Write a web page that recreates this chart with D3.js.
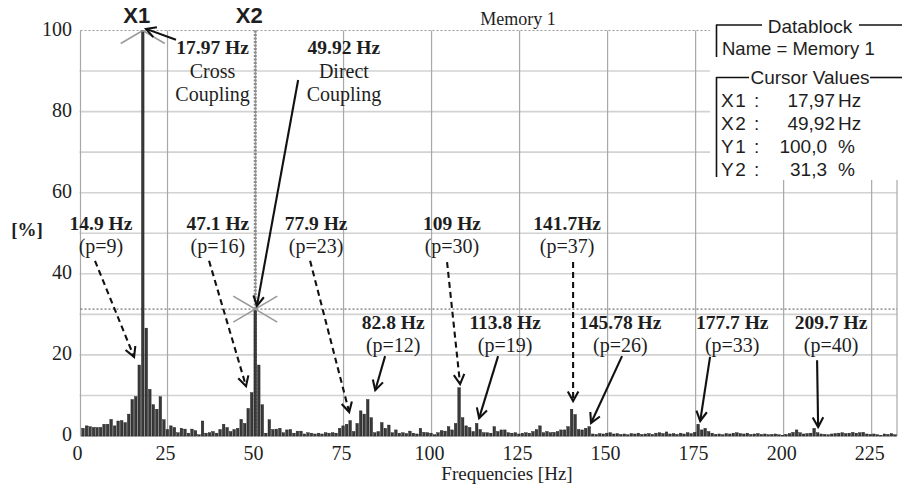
<!DOCTYPE html>
<html><head><meta charset="utf-8">
<script src="https://cdn.jsdelivr.net/npm/d3@7"></script>
<style>body{margin:0;background:#fff;} svg{display:block;}</style>
</head><body><svg id="c" width="902" height="491"></svg>
<script>
// ---------------- DATA ----------------
const binHz = 0.9984; // spectral line spacing (Hz)
// amplitude [%] of spectral lines 1..232
const amplitudes = [
  1.9, 2.5, 2.3, 2.1, 2.1, 2.1, 2.9, 2.9, 4.1, 2.5,
  3.7, 3.8, 3.3, 5.4, 9.0, 9.7, 17.5, 100, 26.6, 11.5,
  7.7, 6.6, 9.7, 4.0, 1.6, 2.5, 2.1, 0.8, 1.9, 1.7,
  0.7, 1.7, 1.3, 0.3, 3.7, 0.7, 0.8, 1.1, 0.7, 1.6,
  2.9, 2.1, 1.1, 1.6, 1.9, 4.1, 3.1, 6.8, 10.7, 31.3,
  17.5, 7.7, 0.7, 4.0, 1.6, 1.7, 1.9, 0.8, 1.5, 1.6,
  0.7, 1.2, 1.2, 0.5, 0.8, 0.7, 0.5, 0.7, 0.5, 0.8,
  0.7, 0.8, 0.7, 1.9, 2.5, 2.9, 3.8, 1.1, 3.1, 6.2,
  5.4, 9.0, 4.5, 0.8, 1.1, 3.3, 1.9, 2.7, 0.8, 1.5,
  0.7, 0.8, 0.6, 1.2, 0.7, 0.5, 1.9, 0.9, 0.8, 0.7,
  0.3, 0.8, 1.3, 1.2, 2.3, 1.5, 3.1, 11.9, 4.5, 2.5,
  2.1, 1.1, 3.1, 1.6, 0.8, 0.8, 0.7, 2.3, 1.1, 1.5,
  1.5, 0.8, 0.7, 0.8, 0.5, 0.7, 0.8, 0.7, 1.1, 1.6,
  2.5, 0.8, 1.1, 0.8, 0.9, 1.1, 1.5, 1.5, 2.3, 6.6,
  5.3, 1.6, 1.5, 1.9, 2.3, 0.5, 0.4, 0.6, 0.5, 0.7,
  0.8, 0.5, 0.6, 0.4, 0.5, 0.3, 0.6, 0.5, 0.7, 0.4,
  0.5, 0.6, 0.4, 0.7, 0.8, 0.6, 1.0, 0.5, 0.6, 0.4,
  0.7, 0.5, 0.8, 0.6, 0.9, 2.9, 1.5, 1.9, 1.1, 0.7,
  0.4, 0.5, 0.3, 0.6, 0.5, 0.7, 0.8, 0.6, 0.5, 0.7,
  0.4, 0.5, 0.6, 0.4, 0.5, 0.3, 0.4, 0.5, 0.3, 0.2,
  0.4, 0.6, 0.9, 1.5, 0.8, 0.5, 0.6, 0.7, 1.9, 0.8,
  0.5, 0.4, 0.3, 0.5, 0.6, 0.7, 0.8, 0.6, 0.7, 0.9,
  0.7, 0.8, 0.9, 0.5, 0.4, 0.5, 0.3, 0.2, 0.5, 0.4,
  0.6, 0.3
];
const xTicks = [0, 25, 50, 75, 100, 125, 150, 175, 200, 225];
const yTicks = [0, 20, 40, 60, 80, 100];
const yGrid = [10, 20, 30, 40, 50, 60, 70, 80, 90];
const cursorNames = ["X1", "X2"];
const cursorHz = [17.97, 49.92];
const cursorPct = [100.0, 31.3];
const legendLabels = ["X1", "X2", "Y1", "Y2"];
const legendValues = ["17,97", "49,92", "100,0", "31,3"];
const legendUnits = ["Hz", "Hz", "%", "%"];
const xTitle = "Frequencies [Hz]";
const yTitle = "[%]";
const chartTitle = "Memory 1";
// annotation texts and anchor points in data space (Hz, %)
const annLines1 = ["14.9 Hz", "47.1 Hz", "77.9 Hz", "109 Hz", "141.7Hz", "82.8 Hz", "113.8 Hz", "145.78 Hz", "177.7 Hz", "209.7 Hz"];
const annLines2 = ["(p=9)", "(p=16)", "(p=23)", "(p=30)", "(p=37)", "(p=12)", "(p=19)", "(p=26)", "(p=33)", "(p=40)"];
const annCenterHz = [6.1, 39.3, 67.2, 105.8, 138.5, 89.1, 120.9, 153.6, 185.4, 213.5];
const annRow = [0, 0, 0, 0, 0, 1, 1, 1, 1, 1];
const annFrom = [[4.4, 43.2], [36.8, 43.2], [65.5, 43.2], [104.4, 42.9], [140.2, 42.9],
                 [86.8, 19.7], [118.9, 19.7], [154.1, 19.7], [179.1, 19.5], [209.5, 18.7]];
const annTo = [[15.5, 19.5], [47.3, 12.3], [76.6, 5.9], [108.1, 12.8], [140.2, 8.6],
               [84.0, 11.3], [113.5, 4.4], [145.3, 3.2], [176.3, 3.7], [209.8, 2.2]];
const annDashed = [true, true, true, true, true, false, false, false, false, false];
const topAnnText = [["17.97 Hz", "Cross", "Coupling"], ["49.92 Hz", "Direct", "Coupling"]];
const topAnnCenterHz = [37.8, 75.1];
const topAnnFrom = [[27.4, 97.7], [62.1, 87.8]];
const topAnnTo = [[18.9, 100.4], [50.4, 32.1]];

// ---------------- CHART ----------------
const svg = d3.select("#c");
const serif = "'Liberation Serif','Times New Roman',serif";
const sans = "'Liberation Sans',Arial,sans-serif";
const ink = "#1e1e1e";

const x = d3.scaleLinear().domain([0, 232.2]).range([79.5, 897]);
const y = d3.scaleLinear().domain([0, 100]).range([436, 30.5]);
const [x0, x1] = x.range();
const [yb, yt] = y.range();

svg.append("defs").append("clipPath").attr("id", "plotclip")
  .append("rect").attr("x", x0).attr("y", yt).attr("width", x1 - x0).attr("height", yb - yt);

// horizontal grid
svg.append("g").selectAll("line").data(yGrid).join("line")
  .attr("x1", x0).attr("x2", x1).attr("y1", d => y(d)).attr("y2", d => y(d))
  .attr("stroke", "#d2d2d2").attr("stroke-width", 1.6);

// vertical grid
svg.append("g").selectAll("line").data(xTicks.slice(1)).join("line")
  .attr("x1", d => x(d)).attr("x2", d => x(d)).attr("y1", yt).attr("y2", yb)
  .attr("stroke", "#a8a8a8").attr("stroke-width", 1.2);

// frame
svg.append("line").attr("x1", x0 + 1).attr("x2", x0 + 1).attr("y1", yt).attr("y2", yb)
  .attr("stroke", "#a8a8a8").attr("stroke-width", 1.2);
svg.append("line").attr("x1", x1).attr("x2", x1).attr("y1", yt).attr("y2", yb)
  .attr("stroke", "#a8a8a8").attr("stroke-width", 1.2);
svg.append("line").attr("x1", x0 + 1).attr("x2", x1).attr("y1", yb + 0.5).attr("y2", yb + 0.5)
  .attr("stroke", "#bbb").attr("stroke-width", 1);
svg.append("line").attr("x1", x0 + 1).attr("x2", x1).attr("y1", yt).attr("y2", yt)
  .attr("stroke", "#999").attr("stroke-width", 1.2).attr("stroke-dasharray", "2,2");

// Y2 cursor horizontal line
svg.append("line").attr("x1", x0 + 1).attr("x2", x1).attr("y1", y(cursorPct[1])).attr("y2", y(cursorPct[1]))
  .attr("stroke", "#555").attr("stroke-width", 1).attr("stroke-dasharray", "2,2");

// X2 cursor vertical line
svg.append("line").attr("x1", x(cursorHz[1])).attr("x2", x(cursorHz[1])).attr("y1", yt).attr("y2", yb)
  .attr("stroke", "#8c8c8c").attr("stroke-width", 3).attr("stroke-dasharray", "2,1.5");

// bars
const bars = amplitudes.map((v, i) => ({ f: (i + 1) * binHz, v }));
svg.append("g").selectAll("rect").data(bars).join("rect")
  .attr("x", d => x(d.f) - 1.3).attr("width", 2.6)
  .attr("y", d => y(d.v)).attr("height", d => y(0) - y(d.v))
  .attr("fill", "#3a3a3a").attr("stroke", "#161616").attr("stroke-width", 0.4);

// cursor cross markers
const cross = svg.append("g").attr("clip-path", "url(#plotclip)");
cursorHz.forEach((f, i) => {
  const cx = x(f), cy = y(cursorPct[i]);
  cross.append("line").attr("x1", cx - 22).attr("y1", cy - 13).attr("x2", cx + 22).attr("y2", cy + 13)
    .attr("stroke", "#9a9a9a").attr("stroke-width", 1.6);
  cross.append("line").attr("x1", cx - 22).attr("y1", cy + 13).attr("x2", cx + 22).attr("y2", cy - 13)
    .attr("stroke", "#9a9a9a").attr("stroke-width", 1.6);
});

// cursor names
svg.append("g").selectAll("text").data(cursorNames).join("text")
  .attr("x", (d, i) => x(cursorHz[i]) - 6).attr("y", 23)
  .attr("text-anchor", "middle").attr("font-family", sans).attr("font-weight", "bold")
  .attr("font-size", 22).attr("fill", ink).text(d => d);

// axis labels
svg.append("g").selectAll("text").data(yTicks).join("text")
  .attr("x", 72).attr("y", d => y(d) + 5).attr("text-anchor", "end")
  .attr("font-family", serif).attr("font-size", 20).attr("fill", ink).text(d => d);
svg.append("g").selectAll("text").data(xTicks).join("text")
  .attr("x", d => x(d) - 2).attr("y", 460).attr("text-anchor", "middle")
  .attr("font-family", serif).attr("font-size", 20).attr("fill", ink).text(d => d);
svg.append("text").attr("x", 507).attr("y", 480).attr("text-anchor", "middle")
  .attr("font-family", serif).attr("font-size", 19).attr("fill", ink).text(xTitle);
svg.append("text").attr("x", 27).attr("y", 236).attr("text-anchor", "middle")
  .attr("font-family", serif).attr("font-weight", "bold").attr("font-size", 19).attr("fill", ink).text(yTitle);
svg.append("text").attr("x", 518).attr("y", 25).attr("text-anchor", "middle")
  .attr("font-family", serif).attr("font-size", 18).attr("fill", ink).text(chartTitle);

// arrows
function arrow(g, from, to, dashed) {
  const ax = x(from[0]), ay = y(from[1]), bx = x(to[0]), by = y(to[1]);
  g.append("line").attr("x1", ax).attr("y1", ay).attr("x2", bx).attr("y2", by)
    .attr("stroke", "#111").attr("stroke-width", 2.1)
    .attr("stroke-dasharray", dashed ? "6,4" : null);
  const ang = Math.atan2(by - ay, bx - ax), L = 11, h = 0.5;
  const p1 = [bx - L * Math.cos(ang - h), by - L * Math.sin(ang - h)];
  const p2 = [bx - L * Math.cos(ang + h), by - L * Math.sin(ang + h)];
  g.append("path").attr("d", `M${p1[0]},${p1[1]}L${bx},${by}L${p2[0]},${p2[1]}`)
    .attr("fill", "none").attr("stroke", "#111").attr("stroke-width", 2.1);
}
const ann = svg.append("g");
const rowBase = [[50.8, 45.1], [26.4, 20.7]];
annLines1.forEach((t, i) => {
  const cx = x(annCenterHz[i]);
  const r = rowBase[annRow[i]];
  ann.append("text").attr("x", cx).attr("y", y(r[0])).attr("text-anchor", "middle")
    .attr("font-family", serif).attr("font-weight", "bold").attr("font-size", 19.5).attr("fill", ink).text(t);
  ann.append("text").attr("x", cx).attr("y", y(r[1])).attr("text-anchor", "middle")
    .attr("font-family", serif).attr("font-size", 20).attr("fill", ink).text(annLines2[i]);
  arrow(ann, annFrom[i], annTo[i], annDashed[i]);
});
const topBase = [94.2, 88.3, 82.6];
topAnnText.forEach((lines, i) => {
  lines.forEach((t, j) => {
    ann.append("text").attr("x", x(topAnnCenterHz[i])).attr("y", y(topBase[j])).attr("text-anchor", "middle")
      .attr("font-family", serif).attr("font-weight", j === 0 ? "bold" : "normal")
      .attr("font-size", j === 0 ? 19.5 : 20).attr("fill", ink).text(t);
  });
  arrow(ann, topAnnFrom[i], topAnnTo[i], false);
});

// legend panel
const lg = svg.append("g");
lg.append("rect").attr("x", 710).attr("y", 0).attr("width", 192).attr("height", 180).attr("fill", "#fff");
const ls = { stroke: "#111", w: 1.6 };
function hline(xa, xb, yy) { lg.append("line").attr("x1", xa).attr("x2", xb).attr("y1", yy).attr("y2", yy).attr("stroke", ls.stroke).attr("stroke-width", ls.w); }
function vline(xx, ya, yb2) { lg.append("line").attr("x1", xx).attr("x2", xx).attr("y1", ya).attr("y2", yb2).attr("stroke", ls.stroke).attr("stroke-width", ls.w); }
vline(716.5, 24.5, 57); hline(716.5, 762, 25); hline(859, 902, 25);
vline(716.5, 77, 177); hline(716.5, 749, 77.5); hline(870, 902, 77.5);
lg.append("text").attr("x", 810).attr("y", 33).attr("text-anchor", "middle")
  .attr("font-family", sans).attr("font-size", 19).attr("fill", ink).text("Datablock");
lg.append("text").attr("x", 722).attr("y", 55)
  .attr("font-family", sans).attr("font-size", 18.5).attr("fill", ink).text("Name = " + chartTitle);
lg.append("text").attr("x", 810).attr("y", 84).attr("text-anchor", "middle")
  .attr("font-family", sans).attr("font-size", 19).attr("fill", ink).text("Cursor Values");
const rowY = [107, 130, 152.5, 176];
legendLabels.forEach((lab, i) => {
  lg.append("text").attr("x", 721).attr("y", rowY[i]).attr("font-family", sans).attr("font-size", 19)
    .attr("letter-spacing", 1.5).attr("fill", ink).text(lab);
  lg.append("text").attr("x", 754).attr("y", rowY[i]).attr("font-family", sans).attr("font-size", 19)
    .attr("fill", ink).text(":");
  lg.append("text").attr("x", i < 2 ? 835 : 827).attr("y", rowY[i]).attr("text-anchor", "end")
    .attr("font-family", sans).attr("font-size", 19).attr("fill", ink).text(legendValues[i]);
  lg.append("text").attr("x", 838).attr("y", rowY[i]).attr("font-family", sans).attr("font-size", 19)
    .attr("fill", ink).text(legendUnits[i]);
});
</script></body></html>
